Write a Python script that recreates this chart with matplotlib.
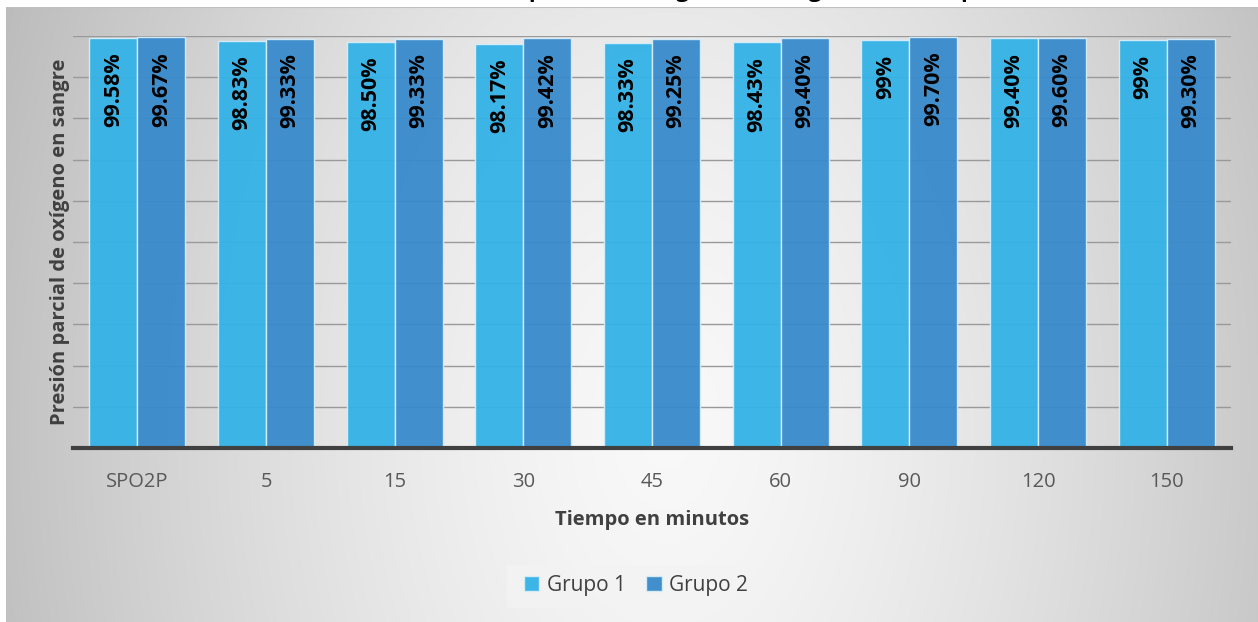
import numpy as np
import matplotlib
matplotlib.use("Agg")
import matplotlib.pyplot as plt
from matplotlib.patches import Rectangle

categories = ["SPO2P", "5", "15", "30", "45", "60", "90", "120", "150"]
grupo1 = [99.58, 98.83, 98.50, 98.17, 98.33, 98.43, 99.00, 99.40, 99.00]
grupo2 = [99.67, 99.33, 99.33, 99.42, 99.25, 99.40, 99.70, 99.60, 99.30]
labels1 = ["99.58%", "98.83%", "98.50%", "98.17%", "98.33%", "98.43%", "99%", "99.40%", "99%"]
labels2 = ["99.67%", "99.33%", "99.33%", "99.42%", "99.25%", "99.40%", "99.70%", "99.60%", "99.30%"]
series_names = ["Grupo 1", "Grupo 2"]
title = "Presión parcial de oxígeno en sangre en el tiempo"
xlabel = "Tiempo en minutos"
ylabel = "Presión parcial de oxígeno en sangre"

plt.rcParams['font.family'] = ['Open Sans', 'DejaVu Sans']

W, H = 1258, 622
fig = plt.figure(figsize=(W / 100, H / 100), dpi=100)
fig.patch.set_facecolor("white")

# background gradient panel
bg = fig.add_axes([6 / W, 0, 1 - 6 / W, 1 - 7 / H])
bg.set_axis_off()
yy, xx = np.mgrid[0:615, 0:1252]
cx, cy = 660, 420
d = np.sqrt(((xx - cx) / 720.0) ** 2 + ((yy - cy) / 1100.0) ** 2)
val = np.clip(0.975 - 0.24 * d ** 1.4, 0, 1)
img = np.dstack([val, val, val])
bg.imshow(img, aspect="auto", extent=[0, 1, 0, 1], origin="upper")
bg.set_xlim(0, 1)
bg.set_ylim(0, 1)
bg.axhline(1, color="#bfbfbf", lw=1.5)
# legend background box
bg.add_patch(Rectangle(((507 - 6) / 1252, 1 - (608 - 7) / 615), 253 / 1252, 43 / 615,
                       facecolor="#f3f3f3", edgecolor="none", alpha=0.8))

# partial title (cut off at top, as in the reference)
fig.text(440 / W, 1 + 3 / H, title, fontsize=16, fontweight="bold", color="black",
         ha="left", va="baseline")

ax = fig.add_axes([73 / W, 1 - 448 / H, (1231 - 73) / W, (448 - 36) / H])
ax.patch.set_alpha(0)
x = np.arange(len(categories))
bw = 0.373
ax.set_xlim(-0.5, len(categories) - 0.5)
ax.set_ylim(0, 100)
ax.set_yticks(np.arange(0, 101, 10))
ax.yaxis.grid(True, color="#999999", lw=1)
ax.set_axisbelow(True)
ax.tick_params(axis="y", length=0, labelleft=False)
ax.tick_params(axis="x", length=0, pad=17, labelsize=14.5, labelcolor="#595959")
for s in ["top", "right", "left"]:
    ax.spines[s].set_visible(False)
ax.spines["bottom"].set_color("#404040")
ax.spines["bottom"].set_linewidth(3)

b1 = ax.bar(x - bw / 2, grupo1, bw, color="#33b2e6", edgecolor="#d8eef9", lw=1,
            alpha=0.95, label=series_names[0], zorder=2)
b2 = ax.bar(x + bw / 2, grupo2, bw, color="#388acb", edgecolor="#d8eef9", lw=1,
            alpha=0.95, label=series_names[1], zorder=2)
for xi, v, t in zip(x - bw / 2, grupo1, labels1):
    ax.annotate(t, (xi, v), xytext=(0, -10.5), textcoords="offset points", rotation=90,
                ha="center", va="top", fontsize=15.5, fontweight="bold", color="black", zorder=3)
for xi, v, t in zip(x + bw / 2, grupo2, labels2):
    ax.annotate(t, (xi, v), xytext=(0, -10.5), textcoords="offset points", rotation=90,
                ha="center", va="top", fontsize=15.5, fontweight="bold", color="black", zorder=3)

ax.set_xticks(x)
ax.set_xticklabels(categories)
ax.set_xlabel(xlabel, fontsize=14.5, fontweight="bold", color="#404040", labelpad=13)
ax.set_ylabel(ylabel, fontsize=14.5, fontweight="bold", color="#404040", labelpad=2)

leg = fig.legend(handles=[b1, b2], loc="center", bbox_to_anchor=(636 / W, 1 - 585 / H),
                 ncol=2, frameon=False, fontsize=15, handlelength=0.75, handleheight=0.75,
                 columnspacing=1.0, handletextpad=0.35)
for t in leg.get_texts():
    t.set_color("#404040")

fig.savefig("out.png", dpi=100)
